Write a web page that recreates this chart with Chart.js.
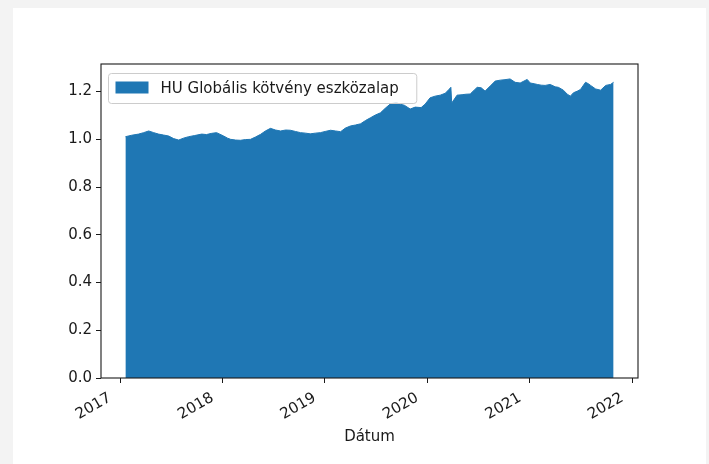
<!DOCTYPE html>
<html>
<head>
<meta charset="utf-8">
<script src="https://cdn.jsdelivr.net/npm/chart.js@4.4.1/dist/chart.umd.min.js"></script>
<style>
  html, body { margin: 0; padding: 0; background: #f3f3f3; }
  body { width: 709px; height: 464px; position: relative; overflow: hidden; }
  #panel { position: absolute; left: 13px; top: 8px; width: 693px; height: 456px; background: #ffffff; }
  #c { position: absolute; left: 0; top: 0; }
</style>
</head>
<body>
<div id="panel"><canvas id="c" width="693" height="456"></canvas></div>
<script>
const seriesLabel = 'HU Globális kötvény eszközalap';
const xTitle = 'Dátum';
const tickYears = [2017, 2018, 2019, 2020, 2021, 2022];
const dates = ['2017-01-20','2017-02-11','2017-03-08','2017-03-26','2017-04-13','2017-05-01','2017-05-18','2017-06-05','2017-06-23','2017-07-11','2017-07-29','2017-08-15','2017-09-02','2017-09-24','2017-10-19','2017-11-05','2017-11-23','2017-12-11',
'2018-01-05','2018-01-19','2018-01-30','2018-02-17','2018-03-06','2018-03-24','2018-04-11','2018-04-29','2018-05-17','2018-06-03','2018-06-21','2018-07-09','2018-07-27','2018-08-14','2018-08-31','2018-09-18','2018-10-06','2018-10-24','2018-11-10','2018-11-28','2018-12-16',
'2019-01-02','2019-01-21','2019-02-08','2019-02-26','2019-03-15','2019-04-02','2019-04-20','2019-05-08','2019-05-26','2019-06-12','2019-06-30','2019-07-18','2019-08-05','2019-08-23','2019-09-13','2019-09-27','2019-10-11','2019-11-01','2019-11-19','2019-12-10','2019-12-24',
'2020-01-11','2020-01-29','2020-02-16','2020-03-05','2020-03-19','2020-03-25','2020-03-28','2020-04-16','2020-05-04','2020-05-18','2020-06-02','2020-06-16','2020-06-27','2020-07-11','2020-07-25','2020-08-12','2020-08-30','2020-09-17','2020-10-04','2020-10-22','2020-11-09','2020-11-27','2020-12-22',
'2021-01-02','2021-01-16','2021-01-27','2021-02-10','2021-02-24','2021-03-14','2021-04-01','2021-04-12','2021-04-30','2021-05-14','2021-05-25','2021-06-05','2021-06-19','2021-06-30','2021-07-18','2021-07-28','2021-08-05','2021-08-23','2021-09-10','2021-09-28','2021-10-15','2021-10-26'];
const values = [1.011,1.017,1.022,1.028,1.035,1.028,1.022,1.018,1.014,1.003,0.997,1.005,1.011,1.016,1.022,1.020,1.025,1.028,
1.014,1.005,1.000,0.997,0.996,0.999,1.000,1.010,1.021,1.035,1.046,1.039,1.035,1.039,1.038,1.033,1.028,1.026,1.023,1.026,1.028,
1.033,1.038,1.035,1.032,1.047,1.056,1.060,1.065,1.079,1.090,1.102,1.111,1.131,1.149,1.154,1.147,1.143,1.127,1.135,1.133,1.147,
1.174,1.181,1.185,1.193,1.210,1.218,1.152,1.185,1.187,1.189,1.190,1.206,1.218,1.216,1.202,1.223,1.244,1.248,1.250,1.253,1.239,1.236,1.251,
1.236,1.233,1.230,1.227,1.226,1.230,1.220,1.218,1.206,1.189,1.181,1.195,1.202,1.209,1.239,1.233,1.226,1.211,1.206,1.226,1.230,1.239];

const FONT = '"DejaVu Sans", sans-serif';
const BLUE = '#1f77b4';
const times = dates.map(d => Date.parse(d + 'T00:00:00Z'));
const xSpan = times[times.length - 1] - times[0];
const xMin = times[0] - 0.05 * xSpan;
const xMax = times[times.length - 1] + 0.05 * xSpan;
const yMax = Math.max(...values) * 1.05;

const framePlugin = {
  id: 'frame',
  afterDraw(chart) {
    const {ctx, chartArea: a} = chart;
    // legend
    ctx.save();
    ctx.font = '15px ' + FONT;
    const tw = ctx.measureText(seriesLabel).width;
    const bx = a.left + 7.5, by = a.top + 9.5, bw = tw + 70, bh = 30, r = 3;
    ctx.beginPath();
    ctx.moveTo(bx + r, by);
    ctx.arcTo(bx + bw, by, bx + bw, by + bh, r);
    ctx.arcTo(bx + bw, by + bh, bx, by + bh, r);
    ctx.arcTo(bx, by + bh, bx, by, r);
    ctx.arcTo(bx, by, bx + bw, by, r);
    ctx.closePath();
    ctx.fillStyle = 'rgba(255,255,255,0.8)';
    ctx.fill();
    ctx.strokeStyle = '#cccccc';
    ctx.lineWidth = 1;
    ctx.stroke();
    ctx.fillStyle = BLUE;
    ctx.fillRect(bx + 7, by + 8, 33, 12);
    ctx.fillStyle = '#1a1a1a';
    ctx.textBaseline = 'middle';
    ctx.textAlign = 'left';
    ctx.fillText(seriesLabel, bx + 52, by + bh / 2 + 0.5);
    // frame
    ctx.strokeStyle = '#1a1a1a';
    ctx.lineWidth = 1.1;
    ctx.strokeRect(a.left, a.top, a.right - a.left, a.bottom - a.top);
    ctx.restore();
  }
};

new Chart(document.getElementById('c'), {
  type: 'line',
  data: {
    datasets: [{
      label: seriesLabel,
      data: times.map((t, i) => ({x: t, y: values[i]})),
      fill: 'origin',
      backgroundColor: BLUE,
      borderColor: BLUE,
      borderWidth: 1,
      pointRadius: 0,
      tension: 0
    }]
  },
  options: {
    responsive: false,
    animation: false,
    events: [],
    layout: { padding: { top: 56, right: 68, left: 0, bottom: 0 } },
    plugins: { legend: { display: false }, tooltip: { enabled: false } },
    scales: {
      x: {
        type: 'linear',
        min: xMin,
        max: xMax,
        afterBuildTicks(scale) { scale.ticks = tickYears.map(y => ({value: Date.UTC(y, 0, 1)})); },
        afterFit(scale) { scale.height = 86; },
        grid: { drawOnChartArea: false, drawTicks: true, tickLength: 5, tickColor: '#1a1a1a', tickWidth: 1 },
        border: { display: false },
        ticks: {
          minRotation: 30, maxRotation: 30, padding: 6, labelOffset: -10,
          color: '#1a1a1a', font: { family: FONT, size: 15 },
          autoSkip: false,
          callback: v => String(new Date(v).getUTCFullYear())
        },
        title: { display: true, text: xTitle, color: '#1a1a1a', font: { family: FONT, size: 15 }, padding: { top: 0, bottom: 18 } }
      },
      y: {
        min: 0,
        max: yMax,
        afterFit(scale) { scale.width = 88; },
        grid: { drawOnChartArea: false, drawTicks: true, tickLength: 5, tickColor: '#1a1a1a', tickWidth: 1 },
        border: { display: false },
        ticks: {
          stepSize: 0.2, includeBounds: false, padding: 4,
          color: '#1a1a1a', font: { family: FONT, size: 15 },
          callback: v => v.toFixed(1)
        }
      }
    }
  },
  plugins: [framePlugin]
});
</script>
</body>
</html>
